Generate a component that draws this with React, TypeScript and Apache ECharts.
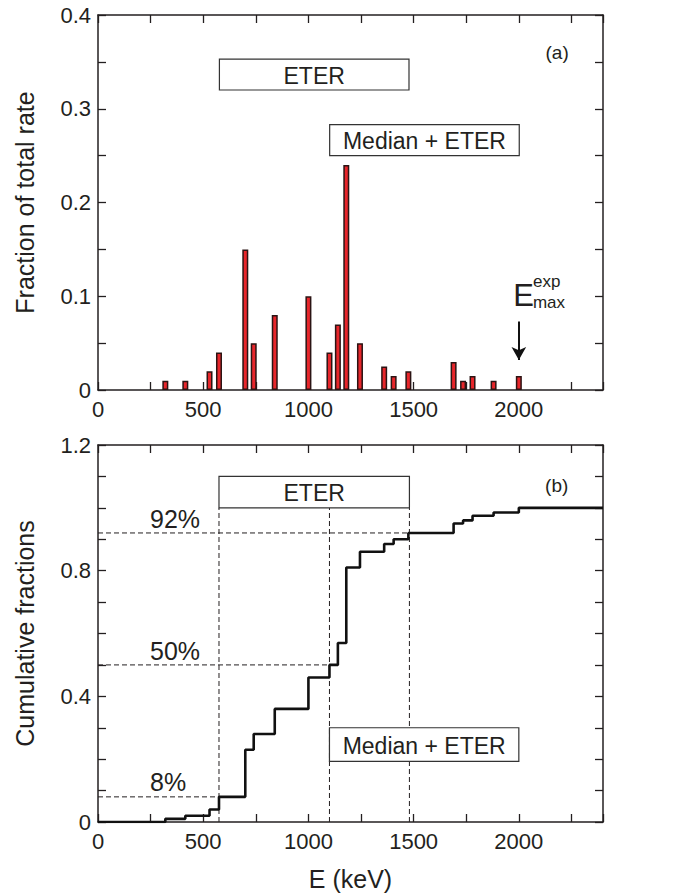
import React, { useEffect, useRef } from "react";
import * as echarts from "echarts";

// ---- Data ----
const energies = [320, 415, 530, 575, 700, 740, 840, 1000, 1100, 1140, 1180, 1245, 1360, 1405, 1475, 1690, 1735, 1780, 1880, 2000];
const fractions = [0.01, 0.01, 0.02, 0.04, 0.15, 0.05, 0.08, 0.1, 0.04, 0.07, 0.24, 0.05, 0.025, 0.015, 0.02, 0.03, 0.01, 0.015, 0.01, 0.015];
const cumulative = [0.01, 0.02, 0.04, 0.08, 0.23, 0.28, 0.36, 0.46, 0.5, 0.57, 0.81, 0.86, 0.885, 0.9, 0.92, 0.95, 0.96, 0.975, 0.985, 1.0];

const percentLevels = [0.08, 0.5, 0.92];
const percentEnergies = [575, 1100, 1480];
const percentLabels = ["8%", "50%", "92%"];
const percentLabelPos = [[247, 0.126], [247, 0.544], [247, 0.964]];

// boxes: [x0, x1, y0, y1]
const topBoxes = [[577, 1478, 0.32, 0.353], [1101, 2002, 0.25, 0.283]];
const topBoxLabels = ["ETER", "Median + ETER"];
const bottomBoxes = [[575, 1480, 1.0, 1.1], [1100, 2000, 0.193, 0.3]];
const bottomBoxLabels = ["ETER", "Median + ETER"];

const arrowFrom = [2000, 0.073];
const arrowTo = [2000, 0.032];

// text notes: [x, y]
const topNotes = [[2182, 0.36], [1974, 0.1003], [2067, 0.1157], [2067, 0.0933]];
const topNoteTexts = ["(a)", "E", "exp", "max"];
const topNoteSizes = [19, 31, 17, 17];
const topNoteAlign = ["center", "left", "left", "left"];
const bottomNotes = [[2180, 1.0726]];
const bottomNoteTexts = ["(b)"];

const xMin = 0, xMax = 2400, xInterval = 250;
const FONT = "'Liberation Sans', Arial, Helvetica, sans-serif";
const INK = "#231f20";

export default function App() {
  const ref = useRef<HTMLDivElement>(null);
  useEffect(() => {
    if (!ref.current) return;
    const chart = echarts.init(ref.current, undefined, { renderer: "svg" });

    const axisLine = { show: true, onZero: false, lineStyle: { color: INK, width: 1.5 } };
    const axisTick = { show: true, inside: true, length: 8, lineStyle: { color: INK, width: 1.3 } };
    const labelStyle = { color: INK, fontSize: 22, fontFamily: FONT };
    const nameStyle = { color: INK, fontSize: 25, fontFamily: FONT };

    const xFmt = (v: number) => (v % 500 === 0 ? String(v) : "");
    const yTopFmt = (v: number) => {
      const t = Math.round(v * 100);
      return t % 10 === 0 ? String(t / 100) : "";
    };
    const yBotFmt = (v: number) => {
      const t = Math.round(v * 10);
      return t % 4 === 0 ? String(t / 10) : "";
    };

    const mkX = (grid: number, pos: "bottom" | "top", labels: boolean, name?: string) => ({
      type: "value",
      gridIndex: grid,
      position: pos,
      min: xMin,
      max: xMax,
      interval: xInterval,
      axisLine,
      axisTick,
      splitLine: { show: false },
      axisLabel: labels ? { ...labelStyle, margin: 8, formatter: xFmt } : { show: false },
      name: name,
      nameLocation: "middle",
      nameGap: 44,
      nameTextStyle: nameStyle,
    });
    const mkY = (grid: number, pos: "left" | "right", max: number, interval: number, fmt: any, name?: string) => ({
      type: "value",
      gridIndex: grid,
      position: pos,
      min: 0,
      max,
      interval,
      axisLine,
      axisTick,
      splitLine: { show: false },
      axisLabel: fmt ? { ...labelStyle, margin: 7, formatter: fmt } : { show: false },
      name: name,
      nameLocation: "middle",
      nameGap: 61,
      nameRotate: 90,
      nameTextStyle: nameStyle,
    });

    const boxSeries = (xi: number, yi: number, boxes: number[][], labels: string[]) => ({
      type: "custom",
      xAxisIndex: xi,
      yAxisIndex: yi,
      z: 10,
      silent: true,
      data: boxes,
      renderItem: (params: any, api: any) => {
        const p0 = api.coord([api.value(0), api.value(3)]);
        const p1 = api.coord([api.value(1), api.value(2)]);
        return {
          type: "group",
          children: [
            {
              type: "rect",
              shape: { x: p0[0], y: p0[1], width: p1[0] - p0[0], height: p1[1] - p0[1] },
              style: { fill: "#fff", stroke: "#333", lineWidth: 1.2 },
            },
            {
              type: "text",
              x: (p0[0] + p1[0]) / 2,
              y: (p0[1] + p1[1]) / 2 + 1,
              style: {
                text: labels[params.dataIndex],
                fontSize: 23,
                fontFamily: FONT,
                fill: INK,
                align: "center",
                verticalAlign: "middle",
              },
            },
          ],
        };
      },
    });

    const noteSeries = (xi: number, yi: number, pts: number[][], texts: string[], sizes: number[], aligns: string[]) => ({
      type: "custom",
      xAxisIndex: xi,
      yAxisIndex: yi,
      z: 11,
      silent: true,
      data: pts,
      renderItem: (params: any, api: any) => {
        const p = api.coord([api.value(0), api.value(1)]);
        const i = params.dataIndex;
        return {
          type: "text",
          x: p[0],
          y: p[1],
          style: {
            text: texts[i],
            fontSize: sizes[i],
            fontFamily: FONT,
            fill: INK,
            align: aligns[i],
            verticalAlign: "middle",
          },
        };
      },
    });

    const dashed = { type: [5, 3] as any, color: INK, width: 1 };
    const dashSeries: any[] = [];
    percentEnergies.forEach((e, i) => {
      dashSeries.push({
        type: "line",
        xAxisIndex: 2,
        yAxisIndex: 2,
        data: [[e, 0], [e, 1.0]],
        symbol: "none",
        lineStyle: dashed,
        z: 2,
        silent: true,
      });
      dashSeries.push({
        type: "line",
        xAxisIndex: 2,
        yAxisIndex: 2,
        data: [[0, percentLevels[i]], [e, percentLevels[i]]],
        symbol: "none",
        lineStyle: dashed,
        z: 2,
        silent: true,
      });
    });

    const option: any = {
      animation: false,
      backgroundColor: "#fff",
      grid: [
        { left: 98, top: 15, width: 505, height: 375 },
        { left: 98, top: 445, width: 505, height: 377 },
      ],
      xAxis: [
        mkX(0, "bottom", true),
        mkX(0, "top", false),
        mkX(1, "bottom", true, "E (keV)"),
        mkX(1, "top", false),
      ],
      yAxis: [
        mkY(0, "left", 0.4, 0.05, yTopFmt, "Fraction of total rate"),
        mkY(0, "right", 0.4, 0.05, null),
        mkY(1, "left", 1.2, 0.1, yBotFmt, "Cumulative fractions"),
        mkY(1, "right", 1.2, 0.1, null),
      ],
      series: [
        {
          type: "bar",
          xAxisIndex: 0,
          yAxisIndex: 0,
          barWidth: 6,
          data: energies.map((e, i) => [e, fractions[i]]),
          itemStyle: { color: "#e8262b", borderColor: "#2b1414", borderWidth: 1.5 },
          z: 3,
          markLine: {
            silent: true,
            symbol: ["none", "arrow"],
            symbolSize: [11, 13],
            label: { show: false },
            lineStyle: { type: "solid", color: "#111", width: 2 },
            data: [[{ coord: arrowFrom }, { coord: arrowTo }]],
          },
        },
        boxSeries(0, 0, topBoxes, topBoxLabels),
        noteSeries(0, 0, topNotes, topNoteTexts, topNoteSizes, topNoteAlign),
        ...dashSeries,
        {
          type: "line",
          xAxisIndex: 2,
          yAxisIndex: 2,
          step: "end",
          symbol: "none",
          data: [[0, 0], ...energies.map((e, i) => [e, cumulative[i]]), [xMax, cumulative[cumulative.length - 1]]],
          lineStyle: { color: "#111", width: 2.6 },
          z: 4,
          silent: true,
        },
        boxSeries(2, 2, bottomBoxes, bottomBoxLabels),
        noteSeries(2, 2, bottomNotes, bottomNoteTexts, [19], ["center"]),
        noteSeries(
          2,
          2,
          percentLabelPos,
          percentLabels,
          [25, 25, 25],
          ["left", "left", "left"]
        ),
      ],
    };
    chart.setOption(option);
    return () => chart.dispose();
  }, []);
  return (
    <div
      ref={ref}
      style={{ position: "fixed", left: 0, top: 0, width: 673, height: 894, background: "#fff" }}
    />
  );
}
